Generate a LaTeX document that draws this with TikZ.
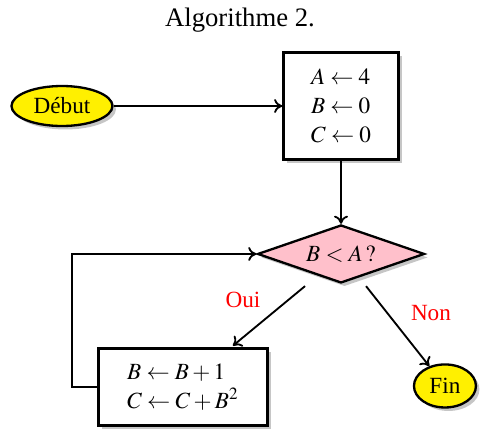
\documentclass[tikz,border=0pt]{standalone}
\usepackage{mathptmx}
\usepackage{fontspec}
\setmainfont{Liberation Serif}
\usepackage{tikz}
\usetikzlibrary{arrows.meta}
\usetikzlibrary{shapes}
\usetikzlibrary{shadows}
\definecolor{rose}{RGB}{255,192,203}
\definecolor{jaune}{RGB}{255,240,0}

\begin{document}
\begin{tikzpicture}[
    ombre/.style={drop shadow={shadow xshift=1.5pt,shadow yshift=-1.5pt,opacity=0.45,fill=gray}},
    borne/.style={ellipse,draw,line width=1pt,fill=jaune,inner sep=0pt,ombre},
    instr/.style={rectangle,draw,line width=1.1pt,fill=white,align=left,ombre,
      font=\fontsize{10}{12.5}\selectfont},
    test/.style={diamond,draw,line width=1pt,fill=rose,inner sep=0pt,aspect=2.9,ombre},
    rep/.style={text=red,font=\fontsize{10}{12}\selectfont}]
  \useasboundingbox (0,0) rectangle (7.288,-6.545);
  \node (titre) at (3.636,-0.303) {\fontsize{11.5}{14}\selectfont Algorithme 2.};
  \node[borne,minimum width=1.53cm,minimum height=0.606cm] (debut) at (0.939,-1.606) {Début};
  \node[instr,minimum width=1.742cm,minimum height=1.621cm] (init) at (5.167,-1.606)
    {$A \leftarrow 4$\\ $B \leftarrow 0$\\ $C \leftarrow 0$};
  \node[test,minimum width=2.53cm,minimum height=0.879cm] (cond) at (5.167,-3.848) {$B < A\,?$};
  \node[instr,minimum width=2.561cm,minimum height=1.167cm] (corps) at (2.773,-5.864)
    {$B \leftarrow B + 1$\\ $C \leftarrow C + B^2$};
  \node[borne,minimum width=0.939cm,minimum height=0.652cm] (fin) at (6.742,-5.848) {Fin};
  \coordinate (coin) at (1.091,-5.864);
  \coordinate (oui) at ([xshift=-0.545cm,yshift=-0.03cm]cond.south);
  \coordinate (non) at ([xshift=0.379cm,yshift=-0.03cm]cond.south);
  \node[rep] (lbloui) at (3.682,-4.545) {Oui};
  \node[rep] (lblnon) at (6.530,-4.742) {Non};
  \begin{scope}[every edge/.style={draw=black,line width=0.8pt,-{To[length=3.5pt,width=6pt]}}]
    \path (debut) edge (init);
    \path (init) edge (cond);
    \path (oui) edge[shorten >=1pt] (corps);
    \path (non) edge (fin);
    \path (corps.west) edge[to path={-- (coin) |- (\tikztotarget)}] (cond.west);
  \end{scope}
\end{tikzpicture}
\end{document}
